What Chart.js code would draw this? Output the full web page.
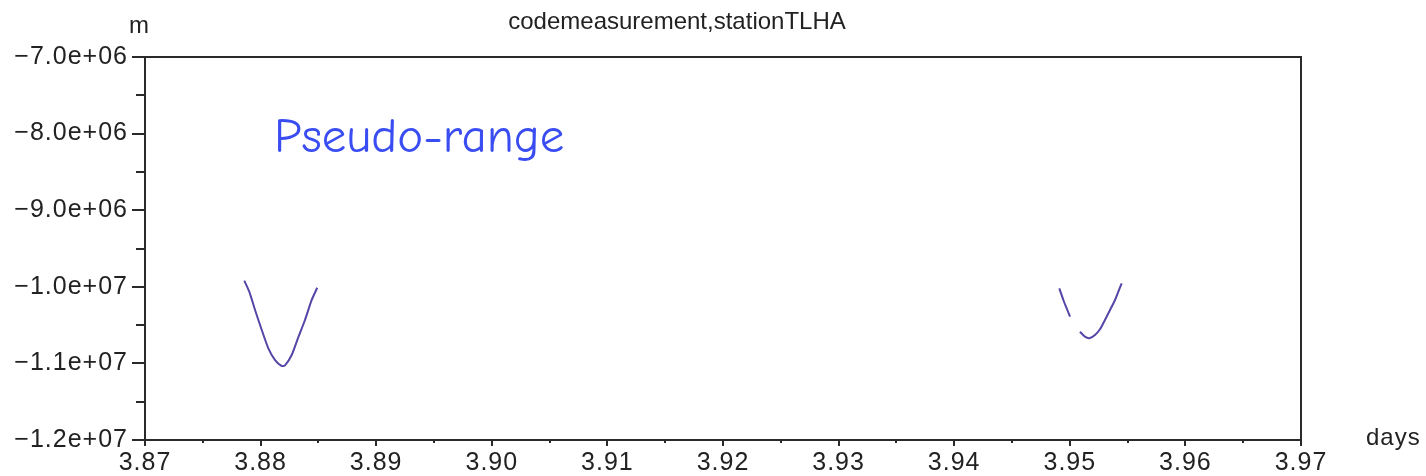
<!DOCTYPE html>
<html>
<head>
<meta charset="utf-8">
<script src="https://cdn.jsdelivr.net/npm/chart.js@4.4.1/dist/chart.umd.min.js"></script>
<style>
  html, body { margin: 0; padding: 0; background: #ffffff; }
  #wrap { width: 1426px; height: 476px; position: relative; }
</style>
</head>
<body>
<div id="wrap"><canvas id="c" width="1426" height="476"></canvas></div>
<script>
// ---- data ----
const chartTitle = 'codemeasurement,stationTLHA';
const yUnit = 'm';
const xUnit = 'days';
const annotationText = 'Pseudo-range';

const yTickValues = [-7.0e6, -8.0e6, -9.0e6, -1.0e7, -1.1e7, -1.2e7];
const yTickLabels = ['\u22127.0e+06', '\u22128.0e+06', '\u22129.0e+06', '\u22121.0e+07', '\u22121.1e+07', '\u22121.2e+07'];
const yMinorTicks = [-7.5e6, -8.5e6, -9.5e6, -1.05e7, -1.15e7];

const xTickValues = [3.87, 3.88, 3.89, 3.90, 3.91, 3.92, 3.93, 3.94, 3.95, 3.96, 3.97];
const xTickLabels = ['3.87', '3.88', '3.89', '3.90', '3.91', '3.92', '3.93', '3.94', '3.95', '3.96', '3.97'];
const xMinorTicks = [3.875, 3.885, 3.895, 3.905, 3.915, 3.925, 3.935, 3.945, 3.955, 3.965];

// pass 1
const pass1Days   = [3.87859, 3.87902, 3.87952, 3.88010, 3.88067, 3.88125, 3.88183, 3.88211, 3.88269, 3.88326, 3.88384, 3.88442, 3.88490];
const pass1Values = [-9.920e6, -1.0064e7, -1.0303e7, -1.0564e7, -1.0803e7, -1.0956e7, -1.1034e7, -1.1025e7, -1.0890e7, -1.0659e7, -1.0433e7, -1.0172e7, -1.0012e7];

// pass 2, first segment
const pass2aDays   = [3.94909, 3.94944, 3.94973, 3.95002];
const pass2aValues = [-1.0020e7, -1.0172e7, -1.0281e7, -1.0390e7];

// pass 2, second segment
const pass2bDays   = [3.95088, 3.95131, 3.95169, 3.95218, 3.95261, 3.95304, 3.95348, 3.95391, 3.95420, 3.95449];
const pass2bValues = [-1.0586e7, -1.0651e7, -1.0672e7, -1.0629e7, -1.0555e7, -1.0433e7, -1.0303e7, -1.0172e7, -1.0064e7, -9.954e6];

// ---- build ----
const lineColor = '#5446a6';
const axisColor = '#2a2a2a';
const textColor = '#222222';
const tickFont = { family: '"Liberation Sans", Arial, Helvetica, sans-serif', size: 25 };

function pts(xs, ys) { return xs.map((x, i) => ({ x: x, y: ys[i] })); }
function ds(xs, ys) {
  return {
    data: pts(xs, ys),
    showLine: true,
    borderColor: lineColor,
    backgroundColor: lineColor,
    borderWidth: 2,
    pointRadius: 0,
    tension: 0.2
  };
}

const spacingPlugin = {
  id: 'spacing',
  beforeDraw(chart) { chart.ctx.letterSpacing = '1px'; }
};

const decorPlugin = {
  id: 'decor',
  afterDraw(chart) {
    const ctx = chart.ctx;
    const a = chart.chartArea;
    const xs = chart.scales.x, ys = chart.scales.y;
    ctx.save();
    ctx.letterSpacing = '0px';
    ctx.strokeStyle = axisColor;
    ctx.lineWidth = 2;
    // frame
    ctx.strokeRect(a.left, a.top, a.right - a.left, a.bottom - a.top);
    // minor ticks y
    yMinorTicks.forEach(v => {
      const p = Math.round(ys.getPixelForValue(v));
      ctx.beginPath(); ctx.moveTo(a.left - 9, p); ctx.lineTo(a.left, p); ctx.stroke();
    });
    // minor ticks x
    xMinorTicks.forEach(v => {
      const p = Math.round(xs.getPixelForValue(v));
      ctx.beginPath(); ctx.moveTo(p, a.bottom); ctx.lineTo(p, a.bottom + 3); ctx.stroke();
    });
    // texts
    ctx.fillStyle = textColor;
    ctx.font = '24px "Liberation Sans", Arial, Helvetica, sans-serif';
    ctx.textBaseline = 'alphabetic';
    ctx.textAlign = 'center';
    ctx.fillText(chartTitle, 677, 29);
    ctx.fillText(yUnit, 139, 33);
    ctx.textAlign = 'left';
    ctx.letterSpacing = '1px';
    ctx.fillText(xUnit, 1366, 445);
    ctx.letterSpacing = '0px';
    ctx.fillStyle = '#3a4df2';
    ctx.font = '49px "Comic Sans MS", "Comic Neue", "Noto Sans", sans-serif';
    ctx.fillText(annotationText, 274, 152);
    ctx.restore();
  }
};

new Chart(document.getElementById('c'), {
  type: 'scatter',
  data: {
    datasets: [ds(pass1Days, pass1Values), ds(pass2aDays, pass2aValues), ds(pass2bDays, pass2bValues)]
  },
  options: {
    responsive: false,
    animation: false,
    events: [],
    layout: { padding: { left: 0, right: 125, top: 57, bottom: 0 } },
    plugins: { legend: { display: false }, tooltip: { enabled: false }, title: { display: false } },
    scales: {
      x: {
        type: 'linear',
        min: 3.87, max: 3.97,
        afterBuildTicks(scale) { scale.ticks = xTickValues.map(v => ({ value: v })); },
        afterFit(scale) { scale.height = 36; },
        border: { display: false },
        grid: { drawOnChartArea: false, drawTicks: true, tickLength: 6, color: axisColor, lineWidth: 2 },
        ticks: {
          autoSkip: false, maxRotation: 0, minRotation: 0, padding: 2,
          color: textColor, font: tickFont,
          callback(value, index) { return xTickLabels[index]; }
        }
      },
      y: {
        type: 'linear',
        min: -1.2e7, max: -7.0e6,
        afterBuildTicks(scale) { scale.ticks = yTickValues.map(v => ({ value: v })); },
        afterFit(scale) { scale.width = 145; },
        border: { display: false },
        grid: { drawOnChartArea: false, drawTicks: true, tickLength: 13, color: axisColor, lineWidth: 2 },
        ticks: {
          autoSkip: false, padding: 4,
          color: textColor, font: tickFont,
          callback(value, index) { return yTickLabels[index]; }
        }
      }
    }
  },
  plugins: [spacingPlugin, decorPlugin]
});
</script>
</body>
</html>
